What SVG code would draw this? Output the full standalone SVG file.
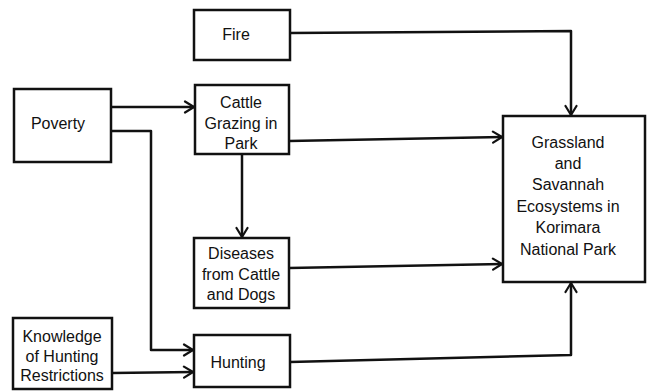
<svg xmlns="http://www.w3.org/2000/svg" width="647" height="391" viewBox="0 0 647 391">
<style>
.box{fill:#fff;stroke:#111;stroke-width:2.5}
.ln{fill:none;stroke:#111;stroke-width:2.5;stroke-linejoin:round}
text{font-family:"Liberation Sans","DejaVu Sans",sans-serif;font-size:16px;fill:#111;text-anchor:middle}
</style>
<defs>
<marker id="ah" markerWidth="14" markerHeight="14" refX="11" refY="7" orient="auto" markerUnits="userSpaceOnUse">
<path d="M2,1.5 L11,7 L2,12.5" fill="none" stroke="#111" stroke-width="2.2" stroke-linecap="round" stroke-linejoin="round"/>
</marker>
</defs>
<rect width="647" height="391" fill="#fff"/>
<g id="connectors">
<path class="ln" d="M290,33 L571,31 L571,115" marker-end="url(#ah)"/>
<path class="ln" d="M111,107 L194,107" marker-end="url(#ah)"/>
<path class="ln" d="M111,131 L151,131 L151,350 L193,350" marker-end="url(#ah)"/>
<path class="ln" d="M289,141 L502,137" marker-end="url(#ah)"/>
<path class="ln" d="M242,154 L242,237" marker-end="url(#ah)"/>
<path class="ln" d="M289,268 L502,264" marker-end="url(#ah)"/>
<path class="ln" d="M112,373 L193,372" marker-end="url(#ah)"/>
<path class="ln" d="M290,362 L571,355 L571,283" marker-end="url(#ah)"/>
</g>
<g id="fire">
<rect class="box" x="194" y="10" width="96" height="50"/>
<text x="236" y="40">Fire</text>
</g>
<g id="poverty">
<rect class="box" x="14" y="89" width="97" height="73"/>
<text x="58" y="129">Poverty</text>
</g>
<g id="cattle">
<rect class="box" x="195" y="85" width="94" height="69"/>
<text x="241" y="108">Cattle</text>
<text x="241" y="129">Grazing in</text>
<text x="241" y="149">Park</text>
</g>
<g id="diseases">
<rect class="box" x="194" y="238" width="95" height="70"/>
<text x="241" y="259">Diseases</text>
<text x="241" y="280">from Cattle</text>
<text x="241" y="300">and Dogs</text>
</g>
<g id="knowledge">
<rect class="box" x="13" y="318" width="99" height="71"/>
<text x="62" y="342">Knowledge</text>
<text x="62" y="362">of Hunting</text>
<text x="62" y="381">Restrictions</text>
</g>
<g id="hunting">
<rect class="box" x="194" y="335" width="96" height="52"/>
<text x="238" y="368">Hunting</text>
</g>
<g id="grassland">
<rect class="box" x="503" y="116" width="142" height="166"/>
<text x="568" y="148">Grassland</text>
<text x="568" y="169">and</text>
<text x="568" y="190">Savannah</text>
<text x="568" y="212">Ecosystems in</text>
<text x="568" y="233">Korimara</text>
<text x="568" y="255">National Park</text>
</g>
</svg>
